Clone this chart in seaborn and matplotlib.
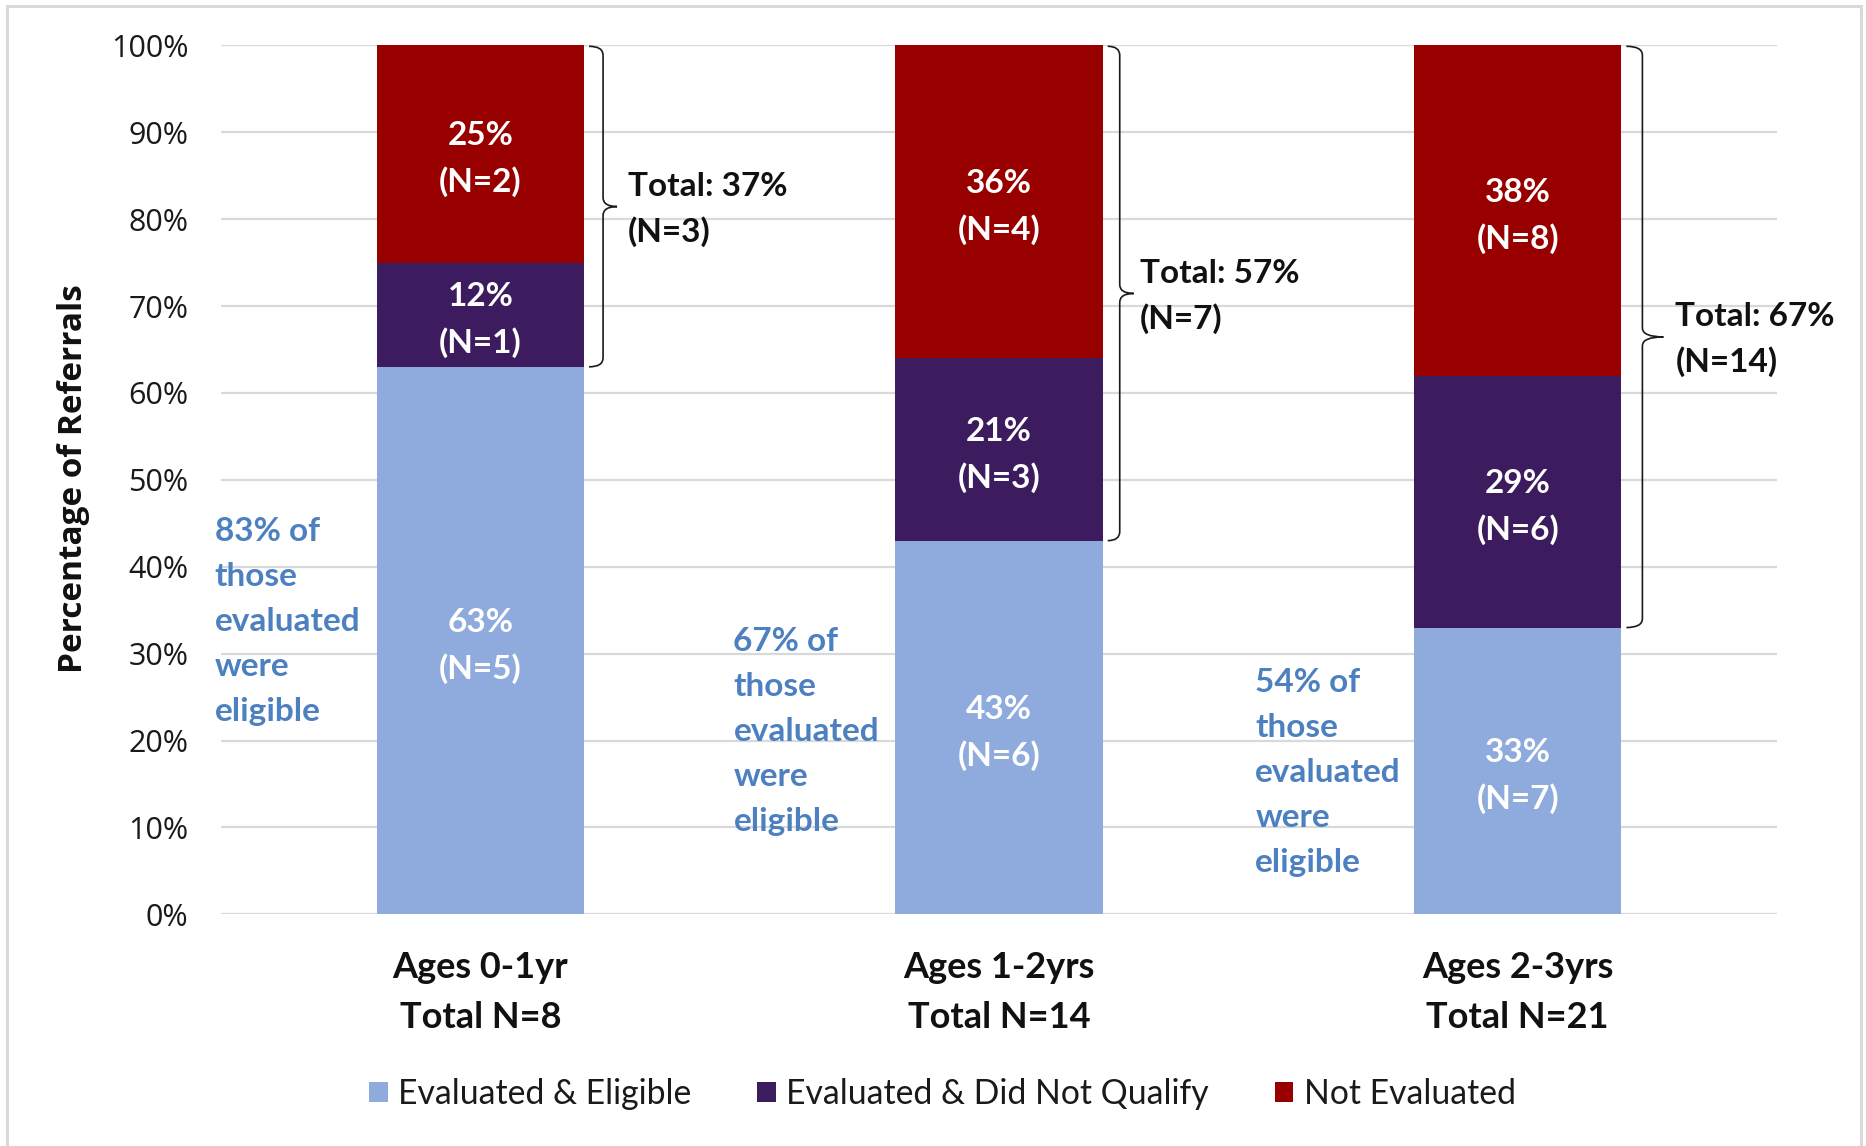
import numpy as np
import pandas as pd
import matplotlib
matplotlib.use("Agg")
import matplotlib.pyplot as plt
import seaborn as sns
from matplotlib.path import Path
from matplotlib.patches import PathPatch, Rectangle, Patch

# ---- data -------------------------------------------------------------
age_groups = ["Ages 0-1yr", "Ages 1-2yrs", "Ages 2-3yrs"]
group_totals = [8, 14, 21]
series_names = ["Evaluated & Eligible", "Evaluated & Did Not Qualify", "Not Evaluated"]
eligible_pct = [63, 43, 33]
not_qualify_pct = [12, 21, 29]
not_evaluated_pct = [25, 36, 38]
eligible_n = [5, 6, 7]
not_qualify_n = [1, 3, 6]
not_evaluated_n = [2, 4, 8]
not_eligible_total_pct = [37, 57, 67]
not_eligible_total_n = [3, 7, 14]
eligible_of_evaluated_pct = [83, 67, 54]
y_ticks = [0, 10, 20, 30, 40, 50, 60, 70, 80, 90, 100]

# ---- style ------------------------------------------------------------
C_BLUE = "#8FAADC"
C_PURPLE = "#3C1B5E"
C_RED = "#980000"
C_NOTE = "#4D80C0"
C_GRID = "#D9D9D9"

sns.set_style("white")
plt.rcParams["font.family"] = ["Lato", "DejaVu Sans"]

W, H = 1866, 1146
fig = plt.figure(figsize=(W / 100, H / 100), dpi=100)
ax_l, ax_r, ax_t, ax_b = 221, 1777, 45.3, 914.3
ax = fig.add_axes([ax_l / W, 1 - ax_b / H, (ax_r - ax_l) / W, (ax_b - ax_t) / H])

# data units per pixel
PX_X = 3.0 / (ax_r - ax_l)
PX_Y = 100.0 / (ax_b - ax_t)

df = pd.DataFrame({
    "group": age_groups,
    "eligible": eligible_pct,
    "not_qualify": not_qualify_pct,
    "not_evaluated": not_evaluated_pct,
})
df["mid"] = df["eligible"] + df["not_qualify"]
df["top"] = df["mid"] + df["not_evaluated"]

# stacked bars: draw cumulative heights back to front
for col, color in [("top", C_RED), ("mid", C_PURPLE), ("eligible", C_BLUE)]:
    sns.barplot(data=df, x="group", y=col, color=color, saturation=1,
                width=0.4, linewidth=0, ax=ax, zorder=2)

ax.set_xlim(-0.5, 2.5)
ax.set_ylim(0, 100)
ax.set_yticks(y_ticks)
ax.set_yticklabels([f"{v}%" for v in y_ticks], fontfamily="Open Sans",
                   fontsize=22, color="#1a1a1a")
ax.tick_params(axis="y", length=0, pad=23.5)
ax.set_xticks([])
ax.set_xlabel("")
ax.set_ylabel("")
ax.yaxis.grid(True, color=C_GRID, lw=1.6, zorder=0)
ax.set_axisbelow(True)
for s in ax.spines.values():
    s.set_visible(False)


def stacked_lines(x, y, lines, spacing_px, shift_px=2.5, **kw):
    n = len(lines)
    for k, line in enumerate(lines):
        off = (((n - 1) / 2 - k) * spacing_px - shift_px) * 0.72
        ax.annotate(line, xy=(x, y), xycoords="data", xytext=(0, off),
                    textcoords="offset points", va="center",
                    annotation_clip=False, **kw)


# segment labels
for i in range(len(age_groups)):
    segs = [
        (0, eligible_pct[i], eligible_n[i]),
        (eligible_pct[i], not_qualify_pct[i], not_qualify_n[i]),
        (eligible_pct[i] + not_qualify_pct[i], not_evaluated_pct[i], not_evaluated_n[i]),
    ]
    for base, pct, n in segs:
        stacked_lines(i, base + pct / 2, [f"{pct}%", f"(N={n})"], 46, shift_px=5,
                      ha="center", color="white", fontsize=24, fontweight="bold")

# category labels under the bars
for i, (g, t) in enumerate(zip(age_groups, group_totals)):
    yc = -(990 - ax_b) * PX_Y
    stacked_lines(i, yc, [g, f"Total N={t}"], 50, ha="center",
                  color="#111111", fontsize=26, fontweight="bold")

# right braces around the not-eligible part of each bar
spine_dx = [19, 17, 21]
tip_dx = [33, 31, 42]
text_dx = [44, 37, 54]
for i in range(len(age_groups)):
    edge = i + 0.2
    x0 = edge + 5 * PX_X
    xs = edge + spine_dx[i] * PX_X
    xt = edge + tip_dx[i] * PX_X
    ytop = 100 - 1.0 * PX_Y
    ybot = eligible_pct[i]
    ymid = (ytop + ybot) / 2
    r = 9 * PX_Y
    verts = [
        (x0, ytop), (xs, ytop), (xs, ytop - r),
        (xs, ymid + r),
        (xs, ymid), (xt, ymid),
        (xs, ymid), (xs, ymid - r),
        (xs, ybot + r),
        (xs, ybot), (x0, ybot),
    ]
    codes = [Path.MOVETO, Path.CURVE3, Path.CURVE3,
             Path.LINETO,
             Path.CURVE3, Path.CURVE3,
             Path.CURVE3, Path.CURVE3,
             Path.LINETO,
             Path.CURVE3, Path.CURVE3]
    ax.add_patch(PathPatch(Path(verts, codes), fill=False, ec="#1a1a1a",
                           lw=1.2, clip_on=False, zorder=3))
    stacked_lines(edge + text_dx[i] * PX_X, ymid,
                  [f"Total: {not_eligible_total_pct[i]}%",
                   f"(N={not_eligible_total_n[i]})"], 45,
                  ha="left", color="#111111", fontsize=24, fontweight="bold")

# share of evaluated children who were eligible
note_x = [-0.512, 0.488, 1.494]
note_y = [34, 21.3, 16.6]
for i, pct in enumerate(eligible_of_evaluated_pct):
    stacked_lines(note_x[i], note_y[i],
                  [f"{pct}% of", "those", "evaluated", "were", "eligible"], 45,
                  ha="left", color=C_NOTE, fontsize=24, fontweight="bold")

# axis title
fig.text(74 / W, 1 - 479 / H, "Percentage of Referrals", rotation=90,
         ha="center", va="center", fontfamily="Open Sans", fontweight="bold",
         fontsize=24, color="#111111")

# legend
handles = [Patch(facecolor=c, edgecolor="none") for c in (C_BLUE, C_PURPLE, C_RED)]
fig.legend(handles, series_names, loc="center", bbox_to_anchor=(0.505, 1 - 1094 / H),
           ncol=3, frameon=False, fontsize=24.3, handlelength=0.56, handleheight=0.56,
           handletextpad=0.3, columnspacing=1.95, labelcolor="#1a1a1a")

# outer frame
fig.add_artist(Rectangle((7 / W, -0.1), (1861 - 7) / W, 1.1 - 6 / H,
                         transform=fig.transFigure, fill=False,
                         ec="#D9D9D9", lw=2.2))

fig.savefig("out.png", dpi=100)
